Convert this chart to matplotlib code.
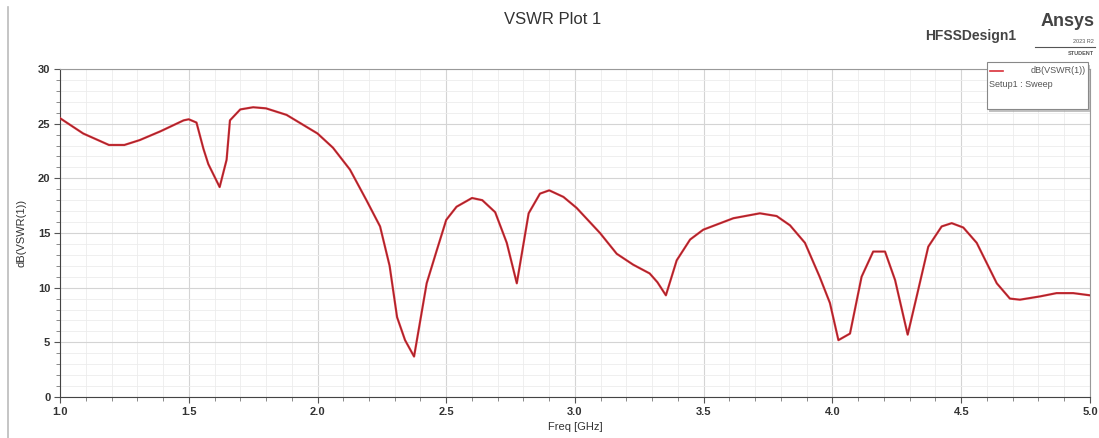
import matplotlib.pyplot as plt
from matplotlib.patches import Rectangle
from matplotlib.ticker import MultipleLocator

# Values
freq_ghz = [
    1.00, 1.09, 1.19, 1.25, 1.31, 1.39, 1.48, 1.50, 1.53, 1.557, 1.576, 1.62,
    1.647, 1.66, 1.70, 1.75, 1.80, 1.88, 2.00, 2.06, 2.126, 2.19, 2.243, 2.28,
    2.309, 2.34, 2.375, 2.424, 2.463, 2.50, 2.54, 2.60, 2.64, 2.69, 2.735,
    2.774, 2.82, 2.864, 2.90, 2.955, 3.006, 3.097, 3.162, 3.226, 3.29, 3.32,
    3.353, 3.395, 3.447, 3.498, 3.615, 3.718, 3.783, 3.835, 3.893, 3.95, 3.99,
    4.023, 4.068, 4.113, 4.158, 4.204, 4.243, 4.292, 4.327, 4.372, 4.424,
    4.463, 4.508, 4.56, 4.638, 4.689, 4.728, 4.806, 4.87, 4.935, 5.00,
]
vswr_db = [
    25.5, 24.1, 23.05, 23.05, 23.5, 24.3, 25.3, 25.4, 25.1, 22.7, 21.3, 19.2,
    21.7, 25.3, 26.3, 26.5, 26.4, 25.8, 24.1, 22.8, 20.8, 18.0, 15.6, 12.0,
    7.3, 5.2, 3.7, 10.4, 13.4, 16.2, 17.4, 18.2, 18.0, 16.9, 14.1,
    10.4, 16.8, 18.6, 18.9, 18.3, 17.3, 15.0, 13.1, 12.1, 11.3, 10.5,
    9.3, 12.5, 14.4, 15.3, 16.35, 16.8, 16.55, 15.7, 14.1, 11.0, 8.6,
    5.2, 5.8, 11.0, 13.3, 13.3, 10.7, 5.7, 9.2, 13.75, 15.6,
    15.9, 15.5, 14.1, 10.4, 9.0, 8.9, 9.2, 9.5, 9.5, 9.3,
]
x_ticks = [1.0, 1.5, 2.0, 2.5, 3.0, 3.5, 4.0, 4.5, 5.0]
y_ticks = [0, 5, 10, 15, 20, 25, 30]

plt.rcParams["font.family"] = ["Liberation Sans", "DejaVu Sans"]

fig = plt.figure(figsize=(10.99, 4.38), dpi=100)
ax = fig.add_axes([0.0546, 0.0936, 0.9372, 0.7489])

ax.plot(freq_ghz, vswr_db, color="#d9303a", linewidth=1.6, zorder=3)
ax.plot(freq_ghz, vswr_db, color="#5a1a1a", linewidth=0.5, alpha=0.6, zorder=4)

ax.set_xlim(1.0, 5.0)
ax.set_ylim(0, 30)
ax.set_xticks(x_ticks)
ax.set_xticklabels([f"{t:.1f}" for t in x_ticks])
ax.set_yticks(y_ticks)
ax.xaxis.set_minor_locator(MultipleLocator(0.1))
ax.yaxis.set_minor_locator(MultipleLocator(1))
ax.grid(which="major", color="#d4d4d4", linewidth=0.8)
ax.grid(which="minor", color="#ececec", linewidth=0.6)
ax.set_axisbelow(True)
ax.tick_params(which="major", length=4, width=0.8, color="#555555",
               labelsize=8, labelcolor="#333333", pad=3)
ax.tick_params(which="minor", length=3, width=0.6, color="#777777")
for lbl in ax.get_xticklabels() + ax.get_yticklabels():
    lbl.set_fontweight("bold")

for side in ["top", "right"]:
    ax.spines[side].set_color("#999999")
for side in ["left", "bottom"]:
    ax.spines[side].set_color("#444444")

ax.set_xlabel("Freq [GHz]", fontsize=8, color="#333333", labelpad=4)
ax.set_ylabel("dB(VSWR(1))", fontsize=8, color="#333333", labelpad=8)

fig.text(0.503, 0.955, "VSWR Plot 1", ha="center", va="center",
         fontsize=12, color="#333333")
fig.text(0.925, 0.918, "HFSSDesign1", ha="right", va="center",
         fontsize=10, fontweight="bold", color="#444444")
fig.text(0.996, 0.95, "Ansys", ha="right", va="center",
         fontsize=13, fontweight="bold", color="#444444")
fig.text(0.995, 0.905, "2023 R2", ha="right", va="center",
         fontsize=4, color="#555555")
fig.text(0.995, 0.878, "STUDENT", ha="right", va="center",
         fontsize=4, fontweight="bold", color="#555555")
fig.add_artist(plt.Line2D([0.942, 0.996], [0.892, 0.892],
                          color="#555555", linewidth=0.8))

# left border line of the window
fig.add_artist(plt.Line2D([0.007, 0.007], [0.0, 0.985],
                          color="#bbbbbb", linewidth=1.2))

# legend box with shadow
fig.add_artist(Rectangle((0.8999, 0.745), 0.0919, 0.107,
                         transform=fig.transFigure, facecolor="#9a9a9a",
                         edgecolor="none", alpha=0.6))
fig.add_artist(Rectangle((0.898, 0.751), 0.0919, 0.107,
                         transform=fig.transFigure, facecolor="white",
                         edgecolor="#888888", linewidth=0.8))
fig.add_artist(plt.Line2D([0.901, 0.913], [0.838, 0.838],
                          color="#d9303a", linewidth=1.2))
fig.text(0.988, 0.838, "dB(VSWR(1))", ha="right", va="center",
         fontsize=6.5, color="#555555")
fig.text(0.900, 0.806, "Setup1 : Sweep", ha="left", va="center",
         fontsize=6.5, color="#555555")

fig.savefig("out.png", dpi=100)
